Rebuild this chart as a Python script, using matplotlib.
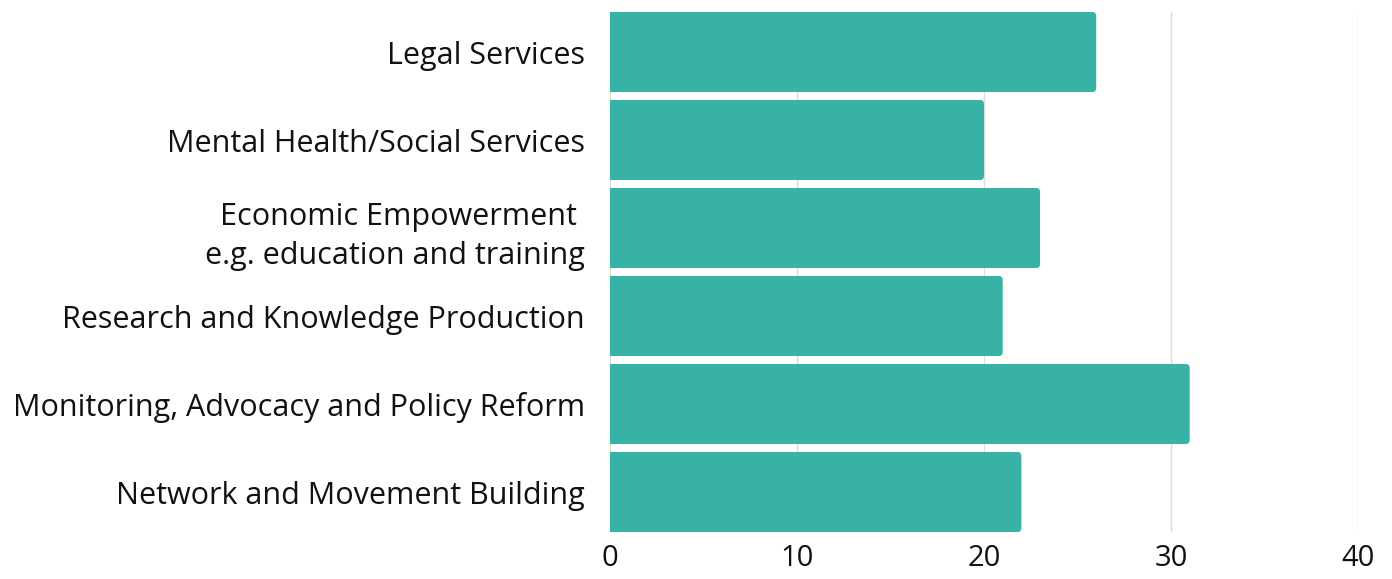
import matplotlib
matplotlib.use("Agg")
import matplotlib.pyplot as plt
from matplotlib.patches import FancyBboxPatch

categories = [
    "Legal Services",
    "Mental Health/Social Services",
    "Economic Empowerment \ne.g. education and training",
    "Research and Knowledge Production",
    "Monitoring, Advocacy and Policy Reform",
    "Network and Movement Building",
]
values = [26, 20, 23, 21, 31, 22]
x_ticks = [0, 10, 20, 30, 40]

BAR_COLOR = "#38b2a5"
plt.rcParams["font.family"] = ["Open Sans", "DejaVu Sans"]

fig = plt.figure(figsize=(13.92, 5.79), dpi=100)
ax = fig.add_axes([610 / 1392, 1 - 532 / 579, 748 / 1392, 520 / 579])

bar_h = 80 / 88
pos = list(range(len(categories)))

# sharp left half, rounded right end
ax.barh(pos, [v / 2 for v in values], height=bar_h, color=BAR_COLOR, zorder=2)
x_per_px = 40 / 748
y_per_px = 1 / 88
r = 4 * x_per_px
for y, v in zip(pos, values):
    patch = FancyBboxPatch((0, y - bar_h / 2), v, bar_h,
                           boxstyle=f"round,pad=0,rounding_size={r}",
                           mutation_aspect=y_per_px / x_per_px,
                           facecolor=BAR_COLOR, edgecolor="none", zorder=2)
    ax.add_patch(patch)

ax.set_xlim(0, 40)
ax.set_ylim(len(categories) - 1 + bar_h / 2, -bar_h / 2)
ax.set_xticks(x_ticks)
ax.set_yticks(pos)
ax.set_yticklabels(categories, multialignment="right", linespacing=1.4)
ax.tick_params(axis="both", length=0, colors="#111111")
ax.tick_params(axis="y", pad=18, labelsize=22)
ax.tick_params(axis="x", pad=9, labelsize=21)
ax.grid(axis="x", color="#dddddd", linewidth=1, zorder=0)
ax.set_axisbelow(True)
for s in ax.spines.values():
    s.set_visible(False)

fig.savefig("out.png", dpi=100)
